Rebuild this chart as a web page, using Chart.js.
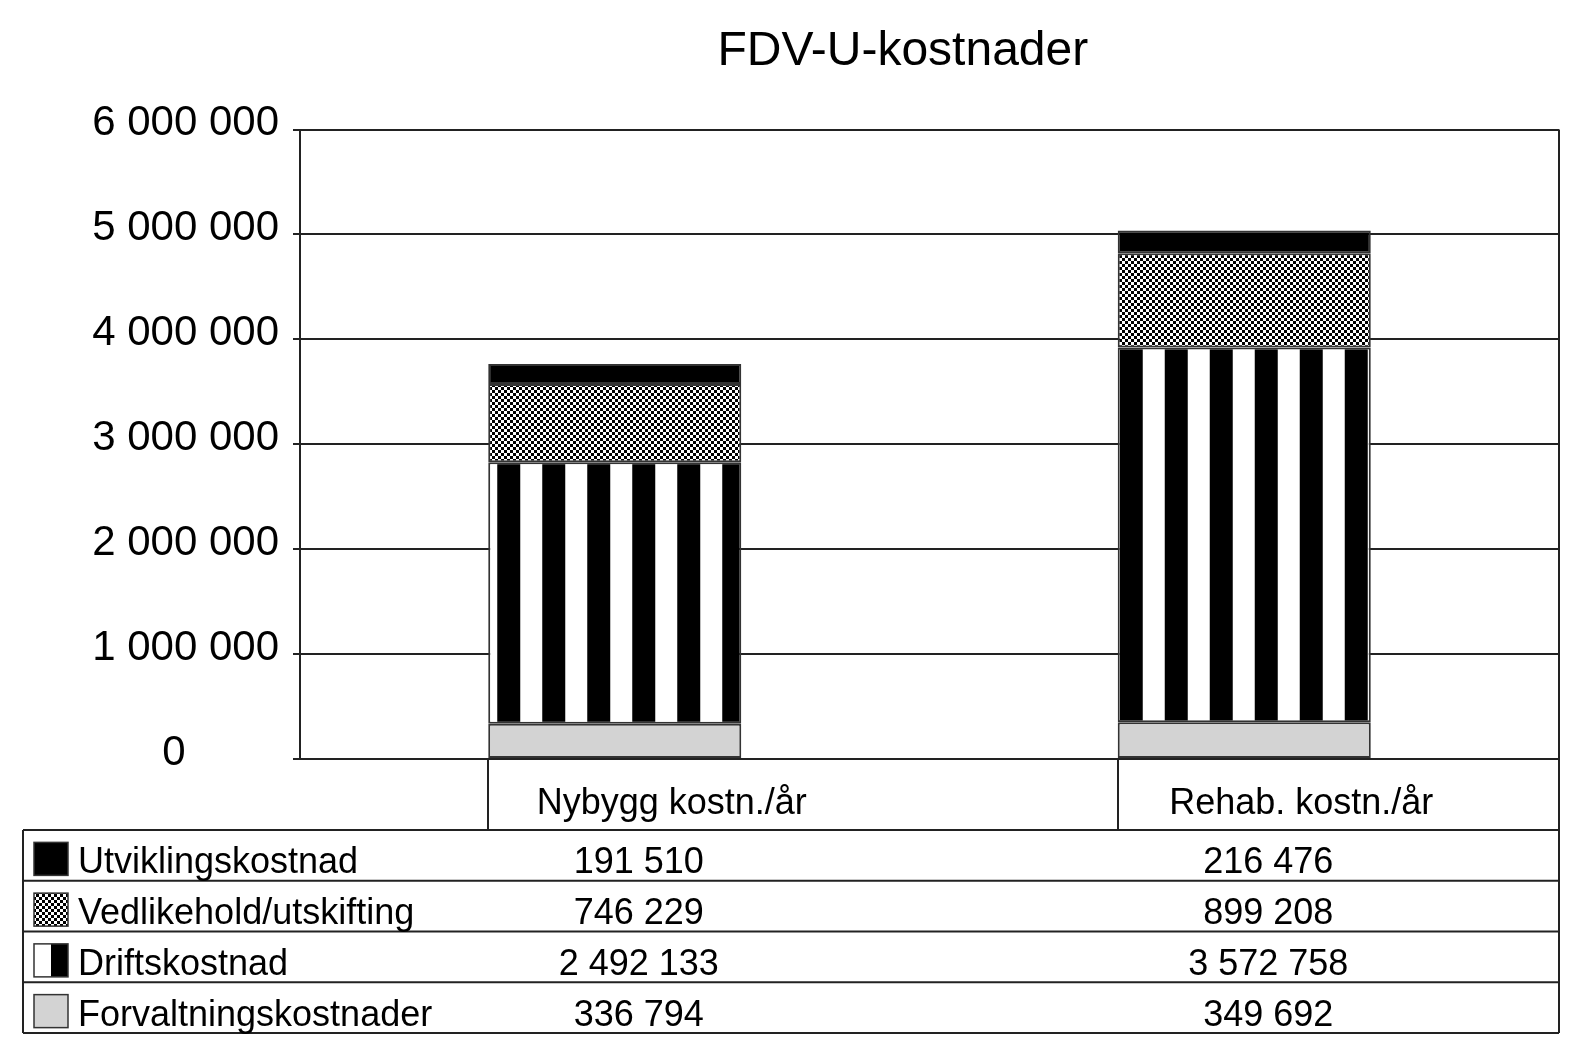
<!DOCTYPE html>
<html>
<head>
<meta charset="utf-8">
<title>FDV-U-kostnader</title>
<script src="https://cdn.jsdelivr.net/npm/chart.js@4.4.1/dist/chart.umd.min.js"></script>
<style>
  html, body { margin: 0; background: #fff; }
  canvas { display: block; }
</style>
</head>
<body>
<canvas id="chart" width="1586" height="1058"></canvas>
<script>
// Data
const categories = ['Nybygg kostn./år', 'Rehab. kostn./år'];
const forvaltningskostnader = [336794, 349692];
const driftskostnad = [2492133, 3572758];
const vedlikehold = [746229, 899208];
const utviklingskostnad = [191510, 216476];
const yMax = 6000000;
const yStep = 1000000;

const FONT = "'Liberation Sans', Arial, sans-serif";
const LINE = '#222';

const canvas = document.getElementById('chart');
const ctx = canvas.getContext('2d');

// thousands with a space, like the original
const fmt = v => String(v).replace(/\B(?=(\d{3})+(?!\d))/g, ' ');

// Fill patterns
function makeStripes() {
  const c = document.createElement('canvas');
  c.width = 45; c.height = 8;
  const g = c.getContext('2d');
  g.fillStyle = '#fff'; g.fillRect(0, 0, 45, 8);
  g.fillStyle = '#000'; g.fillRect(0, 0, 23, 8);
  return ctx.createPattern(c, 'repeat');
}
function makeChecker() {
  const c = document.createElement('canvas');
  c.width = 6; c.height = 6;
  const g = c.getContext('2d');
  g.fillStyle = '#fff'; g.fillRect(0, 0, 6, 6);
  g.fillStyle = '#000'; g.fillRect(0, 0, 3, 3); g.fillRect(3, 3, 3, 3);
  return ctx.createPattern(c, 'repeat');
}
const stripes = categories.map(makeStripes);
const checker = makeChecker();
const stripePhase = [9, 2]; // where the first black stripe starts inside each bar

const datasets = [
  { label: 'Forvaltningskostnader', data: forvaltningskostnader, backgroundColor: '#d3d3d3' },
  { label: 'Driftskostnad', data: driftskostnad, backgroundColor: stripes },
  { label: 'Vedlikehold/utskifting', data: vedlikehold, backgroundColor: checker },
  { label: 'Utviklingskostnad', data: utviklingskostnad, backgroundColor: '#000' }
].map(d => ({
  ...d,
  borderColor: '#333',
  borderWidth: 2,
  borderSkipped: false,
  categoryPercentage: 0.402,
  barPercentage: 1
}));

function drawSwatch(c, dsIndex, x, y, w, h) {
  if (dsIndex === 1) {
    c.fillStyle = '#fff'; c.fillRect(x, y, w / 2, h);
    c.fillStyle = '#000'; c.fillRect(x + w / 2, y, w / 2, h);
  } else {
    c.fillStyle = datasets[dsIndex].backgroundColor;
    c.fillRect(x, y, w, h);
  }
  c.strokeStyle = '#333';
  c.lineWidth = 1.5;
  c.strokeRect(x, y, w, h);
}

// Data table under the plot + frame lines
const dataTable = {
  id: 'dataTable',
  beforeDatasetsDraw(chart) {
    chart.getDatasetMeta(1).data.forEach((bar, i) => {
      const left = bar.x - bar.width / 2;
      stripes[i].setTransform(new DOMMatrix().translate(left + stripePhase[i], 0));
    });
  },
  afterDraw(chart) {
    const { ctx: c, chartArea: area, scales: { x } } = chart;
    const tableLeft = 23;
    const tableTop = x.bottom;
    const rowH = 50.75;
    const rows = datasets.map((d, i) => i).reverse();
    const tableBottom = tableTop + rowH * rows.length;

    c.save();
    c.strokeStyle = LINE;
    c.lineWidth = 2;
    c.beginPath();
    c.moveTo(area.right, area.top); c.lineTo(area.right, tableBottom);
    chart.getDatasetMeta(0).data.forEach(bar => {
      const bx = Math.round(bar.x - bar.width / 2);
      c.moveTo(bx, area.bottom); c.lineTo(bx, tableTop);
    });
    for (let r = 0; r <= rows.length; r++) {
      const y = tableTop + r * rowH;
      c.moveTo(tableLeft, y); c.lineTo(area.right, y);
    }
    c.moveTo(tableLeft, tableTop); c.lineTo(tableLeft, tableBottom);
    c.stroke();

    c.font = '36px ' + FONT;
    c.textBaseline = 'middle';
    rows.forEach((dsIndex, r) => {
      const top = tableTop + r * rowH;
      const mid = top + rowH / 2 + 8;
      drawSwatch(c, dsIndex, 34, mid - 21, 34, 33);
      c.fillStyle = '#000';
      c.textAlign = 'left';
      c.fillText(datasets[dsIndex].label, 78, mid);
      c.textAlign = 'center';
      datasets[dsIndex].data.forEach((v, i) => {
        c.fillText(fmt(v), x.getPixelForValue(i) + 24, mid);
      });
    });
    c.restore();
  }
};

new Chart(ctx, {
  type: 'bar',
  data: { labels: categories, datasets },
  plugins: [dataTable],
  options: {
    responsive: false,
    animation: false,
    devicePixelRatio: 1,
    layout: { padding: { left: 0, right: 27, top: 0, bottom: 228 } },
    plugins: {
      legend: { display: false },
      tooltip: { enabled: false },
      title: {
        display: true,
        fullSize: false,
        // trailing spaces nudge the title a little left of the plot centre, as in the original
        text: 'FDV-U-kostnader    ',
        color: '#000',
        font: { family: FONT, size: 48, weight: 'normal' },
        padding: { top: 23, bottom: 49 }
      }
    },
    scales: {
      x: {
        stacked: true,
        grid: { display: false, drawTicks: false },
        border: { display: false },
        ticks: {
          color: '#000',
          font: { family: FONT, size: 36 },
          padding: 23,
          labelOffset: 57,
          maxRotation: 0
        },
        afterFit: scale => { scale.height = 71; }
      },
      y: {
        stacked: true,
        min: 0,
        max: yMax,
        grid: { color: LINE, lineWidth: 2, tickLength: 7, drawTicks: true },
        border: { display: true, color: LINE, width: 2 },
        ticks: {
          stepSize: yStep,
          color: '#000',
          font: { family: FONT, size: 42 },
          padding: 14,
          labelOffset: -6,
          callback: v => v === 0 ? '0' + ' '.repeat(8) : fmt(v)
        },
        afterFit: scale => { scale.width = 300; }
      }
    }
  }
});
</script>
</body>
</html>
